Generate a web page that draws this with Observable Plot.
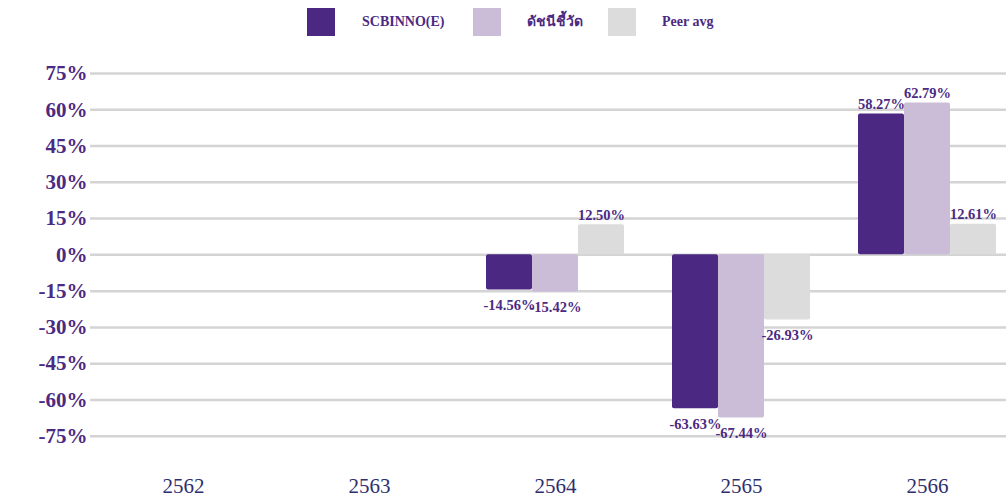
<!DOCTYPE html>
<html>
<head>
<meta charset="utf-8">
<script src="https://cdn.jsdelivr.net/npm/d3@7"></script>
<script src="https://cdn.jsdelivr.net/npm/@observablehq/plot@0.6"></script>
<style>
  body { margin: 0; background: #fff; width: 1006px; overflow: hidden; }
  #legend { position: relative; height: 45px; width: 1006px; font-family: "Liberation Serif", "Noto Sans", serif; font-weight: bold; font-size: 14px; color: #4b2a82; }
  #legend .sw { position: absolute; top: 8px; width: 28px; height: 28px; }
  #legend .lb { position: absolute; top: 14px; line-height: 16px; white-space: nowrap; }
</style>
</head>
<body>
<div id="legend"></div>
<div id="chart"></div>
<script>
const years = ["2562", "2563", "2564", "2565", "2566"];
const seriesNames = ["SCBINNO(E)", "ดัชนีชี้วัด", "Peer avg"];
const seriesColors = ["#4b2882", "#cbbdd8", "#dcdcdc"];
const scbinno = [null, null, -14.56, -63.63, 58.27];
const indexVals = [null, null, -15.42, -67.44, 62.79];
const peerAvg = [null, null, 12.50, -26.93, 12.61];
const yTicks = [-75, -60, -45, -30, -15, 0, 15, 30, 45, 60, 75];

const seriesValues = [scbinno, indexVals, peerAvg];
const data = [];
years.forEach((yr, i) => {
  seriesNames.forEach((s, j) => {
    const v = seriesValues[j][i];
    if (v != null) data.push({year: yr, series: s, value: v});
  });
});
const gridRows = [];
years.forEach(yr => yTicks.forEach(t => gridRows.push({year: yr, tick: t})));

// legend
const legend = document.getElementById("legend");
const legendPos = [[307, 362], [473, 527], [608, 662]];
seriesNames.forEach((s, j) => {
  const sw = document.createElement("div");
  sw.className = "sw";
  sw.style.left = legendPos[j][0] + "px";
  sw.style.background = seriesColors[j];
  legend.appendChild(sw);
  const lb = document.createElement("div");
  lb.className = "lb";
  lb.style.left = legendPos[j][1] + "px";
  lb.textContent = s;
  legend.appendChild(lb);
});

const fmt = v => v.toFixed(2) + "%";
const purple = "#4b2a82";

const chart = Plot.plot({
  width: 1006,
  height: 459,
  marginLeft: 88,
  marginRight: -16,
  marginTop: 28,
  marginBottom: 32,
  style: {fontFamily: "'Liberation Serif', serif", background: "transparent", overflow: "visible"},
  fx: {domain: years, paddingInner: 0.245, paddingOuter: 0.1225, label: null},
  x: {domain: seriesNames, padding: 0, axis: null},
  y: {domain: [-90, 75], axis: null},
  color: {domain: seriesNames, range: seriesColors},
  marks: [
    Plot.ruleY(gridRows, {fx: "year", y: "tick", stroke: "#d4d4d4", strokeWidth: 2.5, insetLeft: -23, insetRight: -23}),
    Plot.barY(data, {fx: "year", x: "series", y: "value", fill: "series", rx: 2}),
    Plot.text(data.filter(d => d.value >= 0), {fx: "year", x: "series", y: "value", text: d => fmt(d.value), lineAnchor: "bottom", dy: -5, fill: purple, fontWeight: "bold", fontSize: 14.5}),
    Plot.text(data.filter(d => d.value < 0), {fx: "year", x: "series", y: "value", text: d => fmt(d.value), lineAnchor: "top", dy: 10, fill: purple, fontWeight: "bold", fontSize: 14.5}),
    Plot.axisFx({anchor: "bottom", tickSize: 0, tickPadding: 6, label: null, fontSize: 21, fill: "#2f2f70", facetAnchor: "bottom"}),
    Plot.axisY({ticks: yTicks, anchor: "left", tickSize: 0, tickPadding: 26, tickFormat: d => d + "%", fontSize: 21, fontWeight: "bold", fill: purple, label: null, facetAnchor: "left"})
  ]
});
document.getElementById("chart").appendChild(chart);
</script>
</body>
</html>
